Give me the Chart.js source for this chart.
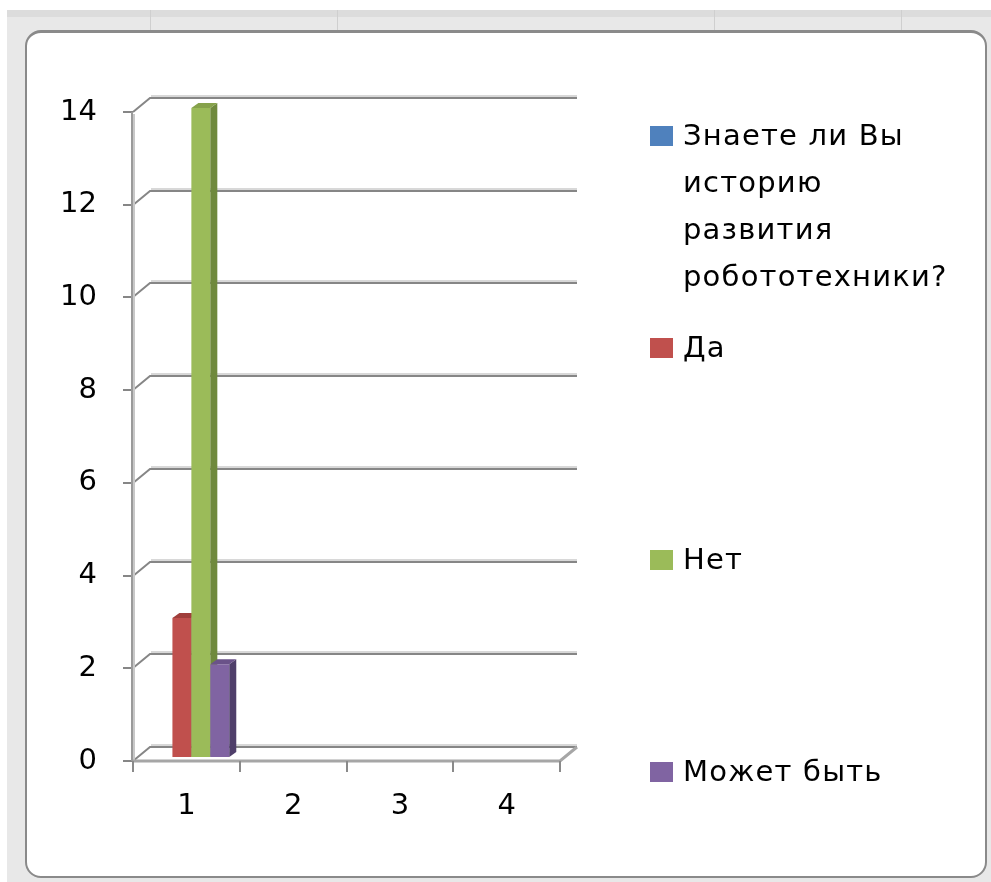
<!DOCTYPE html>
<html>
<head>
<meta charset="utf-8">
<script src="https://cdn.jsdelivr.net/npm/chart.js@4.4.0/dist/chart.umd.min.js"></script>
<style>
    html, body { margin: 0; padding: 0; background: #fff; }
    #wrap { position: relative; width: 991px; height: 882px; overflow: hidden; }
    .band { position: absolute; left: 7px; top: 10px; width: 984px; height: 872px; background: #e8e8e8; }
    .band-top { position: absolute; left: 7px; top: 10px; width: 984px; height: 7px; background: #dcdcdc; }
    .col { position: absolute; top: 10px; width: 1px; height: 20px; background: #cfcfcf; }
    .frame { position: absolute; left: 25px; top: 30px; width: 958px; height: 843px;
             border: 2px solid #8a8a8a; border-top-width: 3px; border-radius: 16px; background: #fff; }
    canvas { position: absolute; left: 0; top: 0; }
    #legend { position: absolute; left: 650px; top: 0; width: 320px;
              font-family: "DejaVu Sans", sans-serif; font-size: 29px; color: #000; }
    .item { position: absolute; left: 0; width: 320px; line-height: 47px; }
    .item .sw { position: absolute; left: 0; top: 14px; width: 23px; height: 20px; }
    .item .tx { margin-left: 33px; width: 285px; letter-spacing: 1.2px; }
</style>
</head>
<body>
<div id="wrap">
    <div class="band"></div>
    <div class="band-top"></div>
    <div class="col" style="left:150px"></div>
    <div class="col" style="left:337px"></div>
    <div class="col" style="left:714px"></div>
    <div class="col" style="left:901px"></div>
    <div class="frame"></div>
    <canvas id="chart" width="991" height="882"></canvas>
    <div id="legend"></div>
</div>
<script>
"use strict";

// данные
var categories = ['1', '2', '3', '4'];
var seriesNames = ['Знаете ли Вы историю развития робототехники?', 'Да', 'Нет', 'Может быть'];
var seriesColors = ['#4f81bd', '#c0504d', '#9bbb59', '#8064a2'];
var sideColors = ['#385d8a', '#8a3a38', '#6f893d', '#4f3f6a'];
var topColors = ['#3f6ba0', '#a03e3b', '#86a24b', '#6a5289'];
var question = [0, null, null, null];
var yes = [3, null, null, null];
var no = [14, null, null, null];
var maybe = [2, null, null, null];
var yTicks = [0, 2, 4, 6, 8, 10, 12, 14];

var seriesValues = [question, yes, no, maybe];

// легенда справа, как в Excel — пункты разнесены по высоте
var legend = document.getElementById('legend');
seriesNames.forEach(function (name, i) {
    var item = document.createElement('div');
    item.className = 'item';
    item.style.top = (112 + i * 212) + 'px';
    item.innerHTML = '<span class="sw" style="background:' + seriesColors[i] + '"></span>' +
        '<div class="tx"></div>';
    item.querySelector('.tx').textContent = name;
    legend.appendChild(item);
});

// псевдо-3D: стенка, пол и объём столбиков
var excel3d = {
    id: 'excel3d',
    beforeDatasetsDraw: function (chart) {
        var ctx = chart.ctx,
            a = chart.chartArea,
            x = chart.scales.x,
            y = chart.scales.y;
        var dx = 17, dy = 14;
        var y0 = Math.round(y.getPixelForValue(0));

        ctx.save();
        ctx.lineCap = 'butt';

        // линии сетки на задней стенке
        yTicks.forEach(function (v) {
            var py = Math.round(y.getPixelForValue(v));
            ctx.strokeStyle = '#d8d8d8';
            ctx.lineWidth = 2;
            ctx.beginPath();
            ctx.moveTo(a.left + dx + 1, py - dy - 2);
            ctx.lineTo(a.right + dx, py - dy - 2);
            ctx.stroke();
            ctx.strokeStyle = '#868686';
            ctx.beginPath();
            ctx.moveTo(a.left, py);
            ctx.lineTo(a.left + dx, py - dy);
            ctx.lineTo(a.right + dx, py - dy);
            ctx.stroke();
            // риска
            ctx.beginPath();
            ctx.moveTo(a.left - 10, py);
            ctx.lineTo(a.left, py);
            ctx.stroke();
        });

        // ось Y
        var yTop = Math.round(y.getPixelForValue(yTicks[yTicks.length - 1]));
        ctx.strokeStyle = '#9a9a9a';
        ctx.lineWidth = 2;
        ctx.beginPath();
        ctx.moveTo(a.left - 1, yTop);
        ctx.lineTo(a.left - 1, y0);
        ctx.stroke();
        ctx.strokeStyle = '#c8c8c8';
        ctx.beginPath();
        ctx.moveTo(a.left + 1, yTop + 2);
        ctx.lineTo(a.left + 1, y0);
        ctx.stroke();

        // передний край пола
        ctx.strokeStyle = '#a6a6a6';
        ctx.lineWidth = 3;
        ctx.beginPath();
        ctx.moveTo(a.left, y0);
        ctx.lineTo(a.right, y0);
        ctx.lineTo(a.right + dx, y0 - dy);
        ctx.stroke();

        // риски категорий
        var step = x.getPixelForValue(1) - x.getPixelForValue(0);
        ctx.strokeStyle = '#8a8a8a';
        ctx.lineWidth = 2;
        for (var k = 0; k <= categories.length; k++) {
            var xb = Math.round(x.getPixelForValue(k) - step / 2);
            ctx.beginPath();
            ctx.moveTo(xb, y0);
            ctx.lineTo(xb, y0 + 11);
            ctx.stroke();
        }

        // столбики (сдвинуты на середину глубины)
        var sx = 5, sy = -4, bd = 7, bdy = 5;
        chart.data.datasets.forEach(function (ds, i) {
            var meta = chart.getDatasetMeta(i);
            meta.data.forEach(function (bar, j) {
                var v = ds.data[j];
                if (!v) return;
                var p = bar.getProps(['x', 'y', 'base', 'width'], true);
                var l = p.x - p.width / 2 + sx,
                    r = p.x + p.width / 2 + sx,
                    t = p.y + sy,
                    b = p.base + sy;
                ctx.fillStyle = seriesColors[i];
                ctx.fillRect(l, t, r - l, b - t);
                ctx.fillStyle = sideColors[i];
                ctx.beginPath();
                ctx.moveTo(r, t);
                ctx.lineTo(r + bd, t - bdy);
                ctx.lineTo(r + bd, b - bdy);
                ctx.lineTo(r, b);
                ctx.closePath();
                ctx.fill();
                ctx.fillStyle = topColors[i];
                ctx.beginPath();
                ctx.moveTo(l, t);
                ctx.lineTo(l + bd, t - bdy);
                ctx.lineTo(r + bd, t - bdy);
                ctx.lineTo(r, t);
                ctx.closePath();
                ctx.fill();
            });
        });

        ctx.restore();
        return false;
    }
};

var tickFont = { family: 'DejaVu Sans', size: 29 };

new Chart(document.getElementById('chart'), {
    type: 'bar',
    data: {
        labels: categories,
        datasets: seriesNames.map(function (name, i) {
            return {
                label: name,
                data: seriesValues[i],
                backgroundColor: seriesColors[i],
                categoryPercentage: 0.71,
                barPercentage: 1.0
            };
        })
    },
    options: {
        responsive: false,
        animation: false,
        layout: {
            padding: { top: 112, right: 431, bottom: 0, left: 0 }
        },
        plugins: {
            legend: { display: false },
            tooltip: { enabled: false }
        },
        scales: {
            x: {
                grid: { display: false, drawTicks: false },
                border: { display: false },
                ticks: { color: '#000', font: tickFont, padding: 28 },
                afterFit: function (s) { s.height = 121; }
            },
            y: {
                min: 0,
                max: 14,
                grid: { display: false, drawTicks: false },
                border: { display: false },
                ticks: { color: '#000', font: tickFont, padding: 36 },
                afterBuildTicks: function (s) {
                    s.ticks = yTicks.map(function (v) { return { value: v }; });
                },
                afterFit: function (s) { s.width = 133; }
            }
        }
    },
    plugins: [excel3d]
});
</script>
</body>
</html>
